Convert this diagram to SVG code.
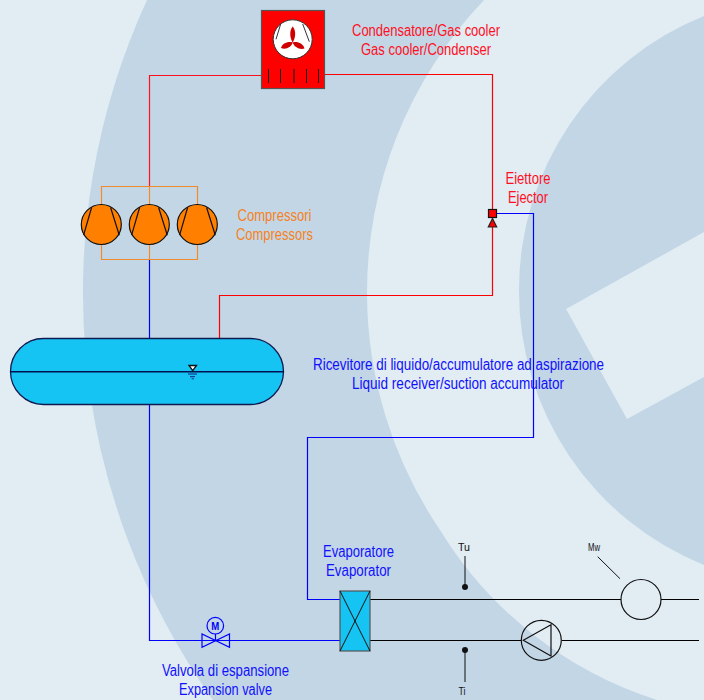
<svg xmlns="http://www.w3.org/2000/svg" width="704" height="700" viewBox="0 0 704 700">
<style>
text{font-family:"Liberation Sans",Arial,sans-serif;font-size:16px;text-anchor:middle}
.r{fill:#ff0f1f}.b{fill:#1010ff}.o{fill:#f5821f}
.t{font-size:10px;fill:#111}
.ln{fill:none;stroke-width:1.2}
.comp{fill:#ff8000;stroke:#111;stroke-width:1.2}
.st{fill:none;stroke:#111;stroke-width:1.2}
</style>
<rect width="704" height="700" fill="#e1ecf3"/>
<g id="background" fill="#c3d6e5">
<path d="M147 0A702 702 0 0 0 213 700H657A395 395 0 0 1 440 530A424 424 0 0 1 367 295A424 424 0 0 1 484 0Z"/>
<path d="M704 16A295 295 0 0 0 519 290A295 295 0 0 0 704 565V377L627 419L566 309L704 232Z"/>
</g>
<g id="connectors">
<path class="ln" stroke="#ff1020" d="M262 75.500H149.500V186.500"/>
<path class="ln" stroke="#ff0000" d="M325 74.500H492.500V295.500H219.500V339"/>
<path class="ln" stroke="#0000ff" d="M496 213.500H533.500V437.500H307.500V599.500H340"/>
<path class="ln" stroke="#0000ff" d="M149.500 405V640.500H340"/>
<path class="ln" stroke="#0000ff" d="M149.500 260V339"/>
<path class="ln" stroke="#000" d="M370 599.500H621M661 599.500H699M370 640.500H521M562 640.500H699"/>
<path class="ln" stroke="#f08a2a" d="M101.500 207V186.500H197.500V207M101.500 244V259.500H197.500V244M149.500 186.500V207M149.500 244V259.500"/>
</g>
<g id="condenser">
<rect x="261.500" y="10.500" width="63" height="78" fill="#ff0000" stroke="#555" stroke-width="1.200"/>
<circle cx="292.700" cy="39.300" r="19.500" fill="#fff" stroke="#333"/>
<path d="M280.700 24L276 39.300M302.700 24L309.300 41.700" stroke="#333" fill="none"/>
<path d="M292.700 26.500C296.500 31 295.500 38 292.700 42.500C290 38 289 31 292.700 26.500ZM292.700 42.500C297.500 41 303.500 44 304.500 48.500C299.500 50 294 47 292.700 42.500ZM292.700 42.500C291.500 47 286 50 281 48C282 43.500 288 41 292.700 42.500Z" fill="#d00000"/>
<path d="M268.500 69V83M280.500 69V83M294 69V83M306.500 69V83M318.500 69V83" stroke="#111" fill="none"/>
</g>
<g id="compressors">
<circle class="comp" cx="101.300" cy="224.500" r="20"/><path d="M91.600 207.500L83.600 235.200M110.600 207.500L119.300 235.200" class="st"/>
<circle class="comp" cx="149.300" cy="224.500" r="20"/><path d="M139.600 207.500L131.600 235.200M158.600 207.500L167.300 235.200" class="st"/>
<circle class="comp" cx="197.300" cy="224.500" r="20"/><path d="M187.600 207.500L179.600 235.200M206.600 207.500L215.300 235.200" class="st"/>
</g>
<g id="ejector">
<rect x="488.500" y="209.500" width="8" height="8" fill="#ff0000" stroke="#111" stroke-width="1.200"/>
<path d="M492.500 218.500L496.700 227H488.300Z" fill="#ff0000" stroke="#222" stroke-width="1.200"/>
</g>
<g id="receiver">
<rect x="10.500" y="338.500" width="273" height="66" rx="33" fill="#16c4f4" stroke="#111a50" stroke-width="1.300"/>
<path d="M10 371.700H284" stroke="#001050" stroke-width="1.500"/>
<path d="M189 365.500H196.500L192.700 370.700Z" fill="#fff" stroke="#111" stroke-width="1.300"/>
<path d="M188 374H197M190 376.700H195M191.700 378.800H193.700" stroke="#102080" fill="none"/>
</g>
<g id="valve">
<circle cx="215.300" cy="625.700" r="8.300" fill="none" stroke="#0000ff" stroke-width="1.200"/>
<path d="M202 634V647.300L229.500 634V647.300ZM215.500 634V640.500" fill="none" stroke="#0000ff" stroke-width="1.200"/>
<text x="215.300" y="629.500" fill="#0000ff" font-weight="bold" style="font-size:10px" textLength="8" lengthAdjust="spacingAndGlyphs">M</text>
</g>
<g id="evaporator">
<rect x="340" y="591" width="30" height="60" fill="#16c4f4" stroke="#555" stroke-width="1.200"/>
<path d="M340 591L370 651M370 591L340 651" stroke="#111" fill="none"/>
</g>
<g id="pump">
<circle cx="541.300" cy="640.300" r="20" class="st"/>
<path d="M523.300 640.300L551 624.700V656Z" class="st"/>
</g>
<g id="meter">
<circle cx="641" cy="599.500" r="20" class="st"/>
<path d="M597.700 556.700L620 578.700" stroke="#111" fill="none"/>
</g>
<g id="sensors">
<path d="M465 556V587M465 650V682" stroke="#111" fill="none"/>
<circle cx="465" cy="587" r="3" fill="#111"/><circle cx="465" cy="650" r="3" fill="#111"/>
</g>
<g id="labels">
<text class="r" x="426" y="36" textLength="148" lengthAdjust="spacingAndGlyphs">Condensatore/Gas cooler</text>
<text class="r" x="426" y="55" textLength="130" lengthAdjust="spacingAndGlyphs">Gas cooler/Condenser</text>
<text class="r" x="528" y="184" textLength="45" lengthAdjust="spacingAndGlyphs">Eiettore</text>
<text class="r" x="528" y="203" textLength="40" lengthAdjust="spacingAndGlyphs">Ejector</text>
<text class="o" x="274.500" y="221" textLength="74" lengthAdjust="spacingAndGlyphs">Compressori</text>
<text class="o" x="274.500" y="240" textLength="77" lengthAdjust="spacingAndGlyphs">Compressors</text>
<text class="b" x="458.500" y="370" textLength="291" lengthAdjust="spacingAndGlyphs">Ricevitore di liquido/accumulatore ad aspirazione</text>
<text class="b" x="458" y="389" textLength="212" lengthAdjust="spacingAndGlyphs">Liquid receiver/suction accumulator</text>
<text class="b" x="358.500" y="557" textLength="71" lengthAdjust="spacingAndGlyphs">Evaporatore</text>
<text class="b" x="358.500" y="576" textLength="65" lengthAdjust="spacingAndGlyphs">Evaporator</text>
<text class="b" x="225.500" y="676" textLength="127" lengthAdjust="spacingAndGlyphs">Valvola di espansione</text>
<text class="b" x="225.500" y="695" textLength="93" lengthAdjust="spacingAndGlyphs">Expansion valve</text>
<text class="t" x="464" y="551" textLength="12" lengthAdjust="spacingAndGlyphs">Tu</text>
<text class="t" x="594" y="551" textLength="12" lengthAdjust="spacingAndGlyphs">Mw</text>
<text class="t" x="462" y="695" textLength="7" lengthAdjust="spacingAndGlyphs">Ti</text>
</g>
</svg>
